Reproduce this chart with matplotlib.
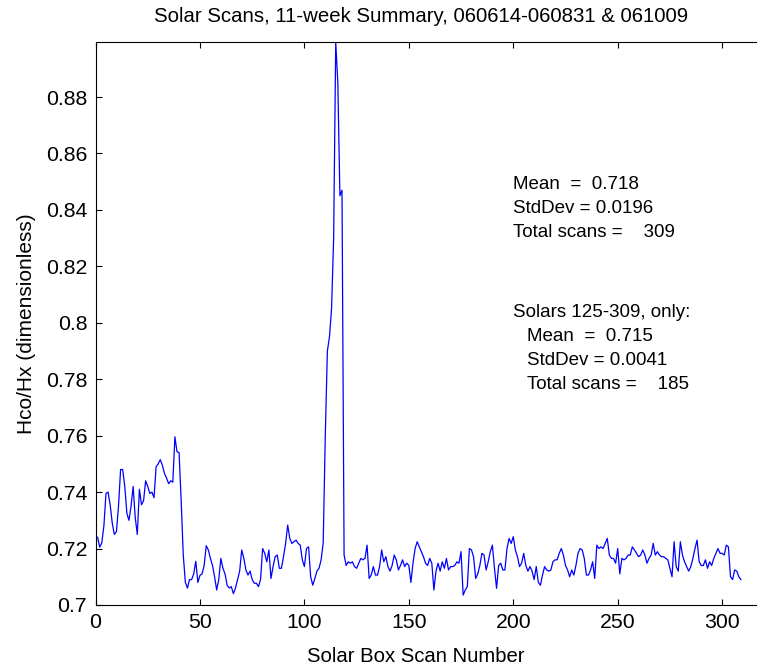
import numpy as np
import matplotlib
matplotlib.use("Agg")
import matplotlib.pyplot as plt

plt.rcParams['font.family'] = ['Liberation Sans', 'DejaVu Sans']

ratio = [
    0.724, 0.7205, 0.722, 0.728, 0.7395, 0.740, 0.7355, 0.729, 0.725, 0.726,
    0.735, 0.748, 0.748, 0.742, 0.7325, 0.730, 0.735, 0.742, 0.731, 0.725,
    0.741, 0.7355, 0.737, 0.744, 0.742, 0.7395, 0.740, 0.738, 0.749, 0.750,
    0.7515, 0.7495, 0.7466, 0.745, 0.743, 0.744, 0.7435, 0.7596, 0.7543, 0.754,
    0.737, 0.7177, 0.708, 0.706, 0.709, 0.709, 0.711, 0.7155, 0.708, 0.7105,
    0.711, 0.714, 0.721, 0.7195, 0.7165, 0.714, 0.710, 0.7053, 0.709, 0.7165,
    0.713, 0.711, 0.707, 0.706, 0.7065, 0.704, 0.706, 0.709, 0.712, 0.7195,
    0.7165, 0.7124, 0.7106, 0.712, 0.709, 0.7077, 0.7077, 0.7065, 0.709, 0.720,
    0.7183, 0.7153, 0.7195, 0.7094, 0.7136, 0.7171, 0.7177, 0.713, 0.713, 0.7171,
    0.7218, 0.7283, 0.7236, 0.7218, 0.7224, 0.723, 0.7218, 0.7212, 0.716, 0.7136,
    0.720, 0.7206, 0.710, 0.707, 0.7094, 0.712, 0.713, 0.716, 0.722, 0.760,
    0.790, 0.795, 0.805, 0.830, 0.8995, 0.885, 0.845, 0.847, 0.7177, 0.714,
    0.7153, 0.7148, 0.7153, 0.7136, 0.713, 0.7148, 0.7165, 0.716, 0.7165, 0.7212,
    0.7094, 0.7106, 0.7136, 0.7106, 0.7106, 0.7136, 0.7195, 0.7153, 0.7171, 0.7136,
    0.712, 0.714, 0.7177, 0.716, 0.7124, 0.714, 0.716, 0.7136, 0.7148, 0.714,
    0.708, 0.7148, 0.720, 0.7224, 0.7206, 0.7189, 0.7171, 0.7148, 0.714, 0.7165,
    0.7148, 0.7053, 0.712, 0.7148, 0.712, 0.7153, 0.713, 0.7165, 0.7124, 0.7136,
    0.7136, 0.714, 0.7153, 0.7148, 0.7189, 0.7035, 0.7053, 0.7065, 0.720, 0.7195,
    0.717, 0.7094, 0.711, 0.714, 0.7183, 0.7177, 0.7124, 0.7153, 0.7189, 0.7212,
    0.713, 0.7059, 0.714, 0.7148, 0.7124, 0.7124, 0.720, 0.7236, 0.7218, 0.7242,
    0.7195, 0.7171, 0.7136, 0.7148, 0.7183, 0.714, 0.712, 0.7136, 0.712, 0.709,
    0.7136, 0.708, 0.707, 0.7106, 0.7136, 0.7124, 0.712, 0.7124, 0.7153, 0.716,
    0.716, 0.7183, 0.720, 0.7177, 0.714, 0.7124, 0.710, 0.7124, 0.7106, 0.714,
    0.7183, 0.720, 0.7195, 0.7165, 0.7106, 0.7106, 0.7124, 0.7153, 0.7094, 0.7212,
    0.720, 0.7206, 0.720, 0.7218, 0.7236, 0.7177, 0.7165, 0.7165, 0.7148, 0.720,
    0.711, 0.7165, 0.716, 0.7165, 0.7177, 0.7177, 0.7206, 0.7195, 0.7183, 0.7171,
    0.7177, 0.7195, 0.7177, 0.7148, 0.7165, 0.7177, 0.7218, 0.7177, 0.7189, 0.7177,
    0.7171, 0.7171, 0.7165, 0.716, 0.713, 0.710, 0.7224, 0.7136, 0.712, 0.7224,
    0.7177, 0.7153, 0.7136, 0.712, 0.7136, 0.7165, 0.720, 0.723, 0.7153, 0.714,
    0.714, 0.716, 0.713, 0.7153, 0.714, 0.7165, 0.7183, 0.720, 0.7183, 0.7183,
    0.7177, 0.7212, 0.7206, 0.710, 0.709, 0.7124, 0.712, 0.710, 0.709,
]
scan_number = np.arange(1, len(ratio) + 1)

x_ticks = [0, 50, 100, 150, 200, 250, 300]
y_ticks = [0.70, 0.72, 0.74, 0.76, 0.78, 0.80, 0.82, 0.84, 0.86, 0.88]
y_tick_labels = ['0.7', '0.72', '0.74', '0.76', '0.78', '0.8', '0.82', '0.84', '0.86', '0.88']

stats_all = ['Mean  =  0.718', 'StdDev = 0.0196', 'Total scans =    309']
stats_sub_title = 'Solars 125-309, only:'
stats_sub = ['Mean  =  0.715', 'StdDev = 0.0041', 'Total scans =    185']

W, H = 757, 671
fig = plt.figure(figsize=(W / 100, H / 100), dpi=100)
ax = fig.add_axes([0.1262, 0.0984, 0.9657, 0.8390])
ax.plot(scan_number, ratio, color=(0, 0, 1), lw=0.9)
ax.set_xlim(0, 350)
ax.set_ylim(0.7, 0.8995)
ax.set_xticks(x_ticks)
ax.set_yticks(y_ticks)
ax.set_yticklabels(y_tick_labels)
ax.tick_params(direction='in', length=4, width=0.8, top=True, right=True,
               labelsize=15.3, pad=6)
for s in ax.spines.values():
    s.set_linewidth(0.8)

fig.text(421 / W, 1 - 16 / H, 'Solar Scans, 11-week Summary, 060614-060831 & 061009',
         fontsize=14.7, ha='center', va='center')
fig.text(416 / W, 1 - 657 / H, 'Solar Box Scan Number', fontsize=14.6,
         ha='center', va='center')
ax.set_ylabel('Hco/Hx (dimensionless)', fontsize=15, labelpad=7)

fs = 13.5
line_step = 0.0085
y0 = 0.849
for i, t in enumerate(stats_all):
    ax.text(200, y0 - i * line_step, t, fontsize=fs, va='center', ha='left')
y1 = 0.8037
ax.text(200, y1, stats_sub_title, fontsize=fs, va='center', ha='left')
for i, t in enumerate(stats_sub):
    ax.text(206.5, y1 - (i + 1) * line_step, t, fontsize=fs, va='center', ha='left')

fig.savefig('out.png', dpi=100)
